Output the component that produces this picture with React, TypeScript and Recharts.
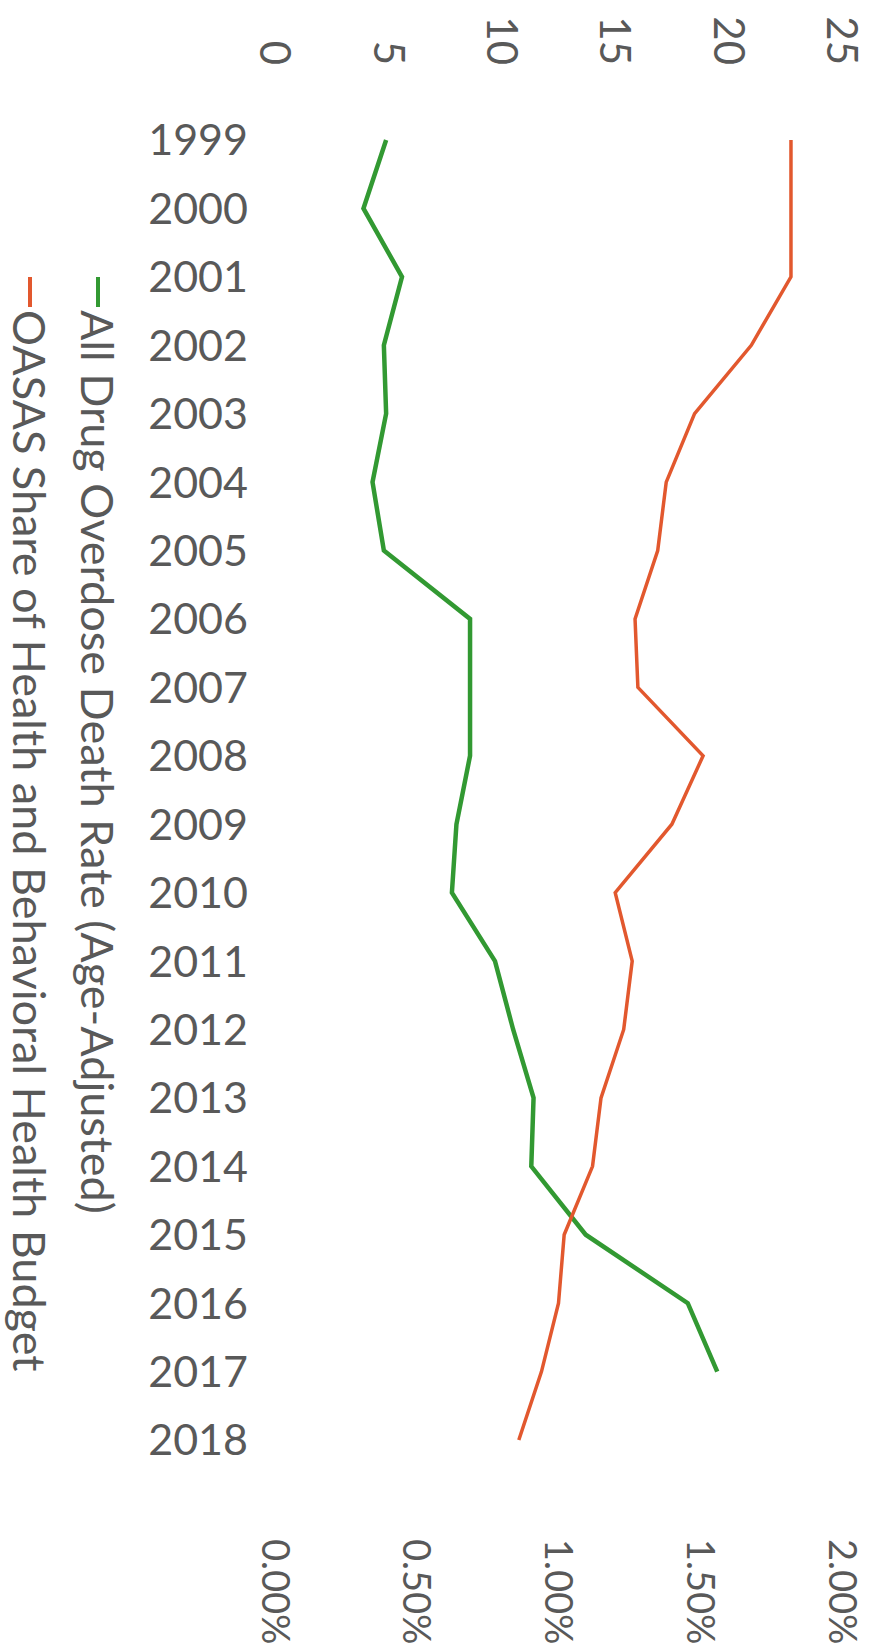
import { LineChart, Line, XAxis, YAxis, Legend } from 'recharts';

// values (chart is drawn rotated 90deg clockwise)
const years = [
  '1999', '2000', '2001', '2002', '2003', '2004', '2005', '2006', '2007', '2008',
  '2009', '2010', '2011', '2012', '2013', '2014', '2015', '2016', '2017', '2018',
];
const overdoseRate = [
  4.9, 3.9, 5.6, 4.8, 4.9, 4.3, 4.8, 8.6, 8.6, 8.6,
  8.0, 7.8, 9.7, 10.5, 11.4, 11.3, 13.7, 18.2, 19.5, null,
];
const oasasShare = [
  0.0182, 0.0182, 0.0182, 0.0168, 0.0148, 0.0138, 0.0135, 0.0127, 0.0128, 0.0151,
  0.014, 0.012, 0.0126, 0.0123, 0.0115, 0.0112, 0.0102, 0.01, 0.0094, 0.0086,
];
const seriesNames = [
  'All Drug Overdose Death Rate (Age-Adjusted)',
  'OASAS Share of Health and Behavioral Health Budget',
];
const rateTicks = [0, 5, 10, 15, 20, 25];
const shareTicks = [0, 0.005, 0.01, 0.015, 0.02];

const GREEN = '#329932';
const RED = '#e2582e';
const TEXT = '#595959';
const FONT = 'Lato, "Open Sans", sans-serif';
const W = 1648;
const H = 874;

const data = years.map((year, i) => ({
  year,
  rate: overdoseRate[i],
  share: oasasShare[i],
}));

function YearTick({ x, y, payload }: any) {
  return (
    <g transform={`translate(${x},${y})`}>
      <text
        x={0}
        y={0}
        dy="0.36em"
        textAnchor="end"
        transform="rotate(-90)"
        fill={TEXT}
        fontSize={43}
        fontFamily={FONT}
      >
        {payload.value}
      </text>
    </g>
  );
}

function LegendBox() {
  const colors = [GREEN, RED];
  return (
    <div style={{ fontFamily: FONT, fontSize: 45, color: TEXT }}>
      {seriesNames.map((name, i) => (
        <div
          key={name}
          style={{
            display: 'flex',
            alignItems: 'center',
            height: 60,
            marginTop: i === 0 ? 0 : 8,
            whiteSpace: 'nowrap',
          }}
        >
          <span
            style={{
              display: 'inline-block',
              width: 30,
              height: 0,
              borderTop: `4px solid ${colors[i]}`,
              marginRight: 3,
            }}
          />
          <span>{name}</span>
        </div>
      ))}
    </div>
  );
}

export default function App() {
  const tickStyle = { fill: TEXT, fontSize: 42, fontFamily: FONT };
  return (
    <div style={{ position: 'absolute', left: 0, top: 0, width: H, height: W, overflow: 'hidden', background: '#fff' }}>
      <div
        style={{
          position: 'absolute',
          left: 0,
          top: 0,
          width: W,
          height: H,
          transformOrigin: '0 0',
          transform: `translate(${H}px, 0) rotate(90deg)`,
        }}
      >
        <LineChart width={W} height={H} data={data} margin={{ top: 32, right: 0, bottom: 0, left: 0 }}>
          <XAxis
            dataKey="year"
            height={275}
            padding={{ left: 35, right: 35 }}
            axisLine={false}
            tickLine={false}
            tickSize={0}
            tickMargin={27}
            interval={0}
            tick={<YearTick />}
          />
          <YAxis
            yAxisId="rate"
            width={105}
            domain={[0, 25]}
            ticks={rateTicks}
            interval={0}
            axisLine={false}
            tickLine={false}
            tickSize={0}
            tickMargin={40}
            tick={tickStyle}
          />
          <YAxis
            yAxisId="share"
            orientation="right"
            width={173}
            domain={[0, 0.02]}
            ticks={shareTicks}
            interval={0}
            axisLine={false}
            tickLine={false}
            tickSize={0}
            tickMargin={64}
            tick={{ ...tickStyle, fontSize: 38 }}
            tickFormatter={(v: number) => `${(v * 100).toFixed(2)}%`}
          />
          <Legend
            verticalAlign="middle"
            align="center"
            layout="horizontal"
            content={<LegendBox />}
            wrapperStyle={{ left: 277, top: 746, width: 'auto' }}
          />
          <Line
            yAxisId="rate"
            type="linear"
            dataKey="rate"
            name={seriesNames[0]}
            stroke={GREEN}
            strokeWidth={4.5}
            dot={false}
            isAnimationActive={false}
          />
          <Line
            yAxisId="share"
            type="linear"
            dataKey="share"
            name={seriesNames[1]}
            stroke={RED}
            strokeWidth={3.5}
            dot={false}
            isAnimationActive={false}
          />
        </LineChart>
      </div>
    </div>
  );
}
